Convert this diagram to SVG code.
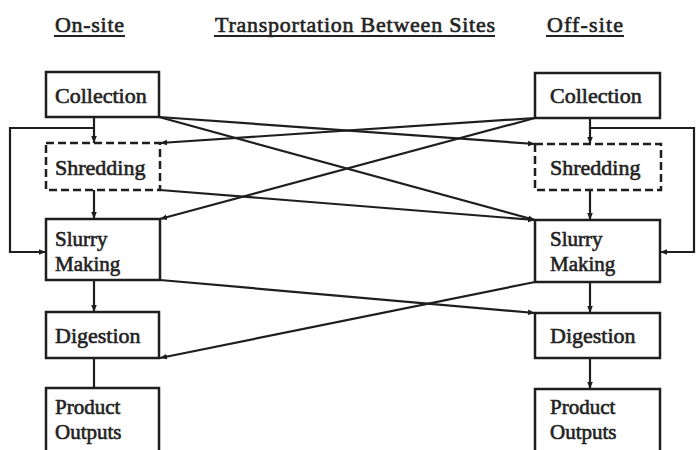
<svg xmlns="http://www.w3.org/2000/svg" width="697" height="450" viewBox="0 0 697 450">
<defs>
<style>
.box{fill:none;stroke:#1e1e1e;stroke-width:2.5}
.dash{stroke-dasharray:8 4}
.t{font-family:"Liberation Serif","Times New Roman",serif;font-size:22px;fill:#222;stroke:#222;stroke-width:0.6}
.s{font-size:21px}
.c{fill:none;stroke:#1e1e1e;stroke-width:2.2}
.u{stroke:#222;stroke-width:2}
</style>
<marker id="a" viewBox="0 0 10 10" refX="10" refY="5" markerWidth="7" markerHeight="7" markerUnits="userSpaceOnUse" orient="auto">
<path d="M0,1 L10,5 L0,9 z" fill="#1e1e1e"/>
</marker>
</defs>
<rect width="697" height="450" fill="#fff"/>
<g id="headers">
<text class="t" x="55" y="32" textLength="69">On-site</text>
<line class="u" x1="54" y1="36" x2="125" y2="36"/>
<text class="t" x="215" y="32" textLength="280">Transportation Between Sites</text>
<line class="u" x1="214" y1="36" x2="495" y2="36"/>
<text class="t" x="547" y="32" textLength="76">Off-site</text>
<line class="u" x1="546" y1="36" x2="624" y2="36"/>
</g>
<g id="connectors">
<path class="c" d="M94,117 V143" marker-end="url(#a)"/>
<path class="c" d="M94,128 H10 V252 H46" marker-end="url(#a)"/>
<path class="c" d="M94,190 V219" marker-end="url(#a)"/>
<path class="c" d="M94,280 V312" marker-end="url(#a)"/>
<path class="c" d="M94,358 V388"/>
<path class="c" d="M590,118 V144" marker-end="url(#a)"/>
<path class="c" d="M590,128 H694 V252 H660" marker-end="url(#a)"/>
<path class="c" d="M590,190 V220" marker-end="url(#a)"/>
<path class="c" d="M590,282 V313" marker-end="url(#a)"/>
<path class="c" d="M590,358 V389" marker-end="url(#a)"/>
<path class="c" d="M159,117 L535,144" marker-end="url(#a)"/>
<path class="c" d="M159,117 L535,220" marker-end="url(#a)"/>
<path class="c" d="M535,118 L160,143" marker-end="url(#a)"/>
<path class="c" d="M535,118 L160,219" marker-end="url(#a)"/>
<path class="c" d="M160,190 L535,220" marker-end="url(#a)"/>
<path class="c" d="M160,280 L535,313" marker-end="url(#a)"/>
<path class="c" d="M535,282 L160,358" marker-end="url(#a)"/>
</g>
<g id="on-collection"><rect class="box" x="46" y="72" width="113" height="45"/><text class="t" x="55" y="103">Collection</text></g>
<g id="on-shredding"><rect class="box dash" x="46" y="143" width="114" height="47"/><text class="t" x="55" y="175">Shredding</text></g>
<g id="on-slurry"><rect class="box" x="46" y="219" width="114" height="61"/><text class="t s" x="55" y="246">Slurry</text><text class="t s" x="55" y="271">Making</text></g>
<g id="on-digestion"><rect class="box" x="46" y="312" width="113" height="46"/><text class="t" x="55" y="343">Digestion</text></g>
<g id="on-product"><rect class="box" x="46" y="388" width="113" height="70"/><text class="t s" x="55" y="414">Product</text><text class="t s" x="55" y="439">Outputs</text></g>
<g id="off-collection"><rect class="box" x="535" y="73" width="125" height="45"/><text class="t" x="550" y="103">Collection</text></g>
<g id="off-shredding"><rect class="box dash" x="535" y="144" width="126" height="46"/><text class="t" x="550" y="175">Shredding</text></g>
<g id="off-slurry"><rect class="box" x="535" y="220" width="125" height="62"/><text class="t s" x="550" y="246">Slurry</text><text class="t s" x="550" y="271">Making</text></g>
<g id="off-digestion"><rect class="box" x="535" y="313" width="125" height="45"/><text class="t" x="550" y="343">Digestion</text></g>
<g id="off-product"><rect class="box" x="535" y="389" width="125" height="70"/><text class="t s" x="550" y="414">Product</text><text class="t s" x="550" y="439">Outputs</text></g>
</svg>
